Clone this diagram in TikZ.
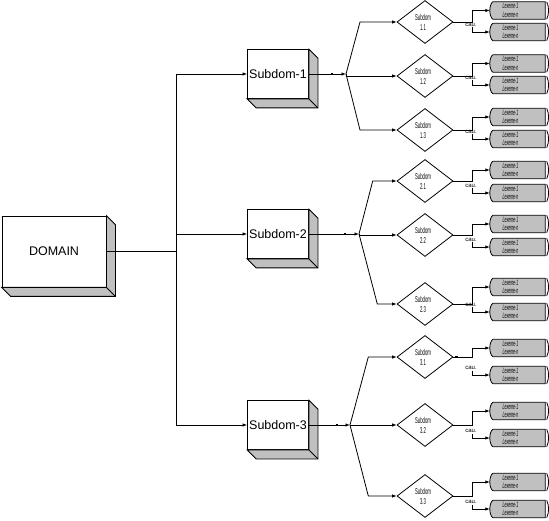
\documentclass[tikz,border=0pt]{standalone}
\usepackage{fontspec}
\setmainfont{Liberation Sans}
\newfontfamily\narrowfont[FakeStretch=0.5]{Liberation Sans}
\newfontfamily\lexfont[FakeStretch=0.45]{Liberation Sans}
\usetikzlibrary{shapes.geometric,arrows.meta,calc}
\pgfdeclarelayer{bg}
\pgfsetlayers{bg,main}
\definecolor{shadegray}{RGB}{192,192,192}
\tikzset{
  wire/.style={draw=black, line width=0.8pt},
  arr/.style={wire, -{Latex[length=4.5pt,width=3.5pt]}},
  cube/.style={rectangle, draw, fill=white, line width=0.8pt, inner sep=0pt, font=\fontsize{12.5}{15}\selectfont},
  dia/.style={diamond, draw, fill=white, line width=0.8pt, inner sep=0pt, minimum width=56pt, minimum height=43pt},
  dtext/.style={font=\narrowfont\fontsize{8.5}{10}\selectfont, align=center, inner sep=0pt},
  lex/.style={rectangle, inner sep=0pt, minimum width=55pt, minimum height=17pt},
  lextxt/.style={font=\lexfont\itshape\fontsize{7.8}{8.5}\selectfont, align=center, inner sep=0pt},
  cautxt/.style={font=\fontsize{6}{6}\selectfont, inner sep=0pt},
  dotmark/.style={rectangle, fill=black, minimum size=2.2pt, inner sep=0pt},
}
\newcommand{\cubedepth}[1]{%
  \filldraw[fill=shadegray, line width=0.8pt, line join=miter]
    (#1.north east) -- ++(9,9) |- ($(#1.south west)+(9,9)$) -- (#1.south west) -- (#1.south east) -- cycle;
  \draw[line width=0.8pt] (#1.south east) -- ++(9,9);}
\newcommand{\lexshape}[1]{%
  \begin{pgfonlayer}{bg}
  \filldraw[fill=shadegray, line width=0.8pt]
    ($(#1.north west)+(3,0)$) -- (#1.north east) -- (#1.south east) -- ($(#1.south west)+(3,0)$)
    .. controls ($(#1.south west)+(-1,-3)$) and ($(#1.north west)+(-1,3)$) .. ($(#1.north west)+(3,0)$) -- cycle;
  \draw[line width=0.8pt] ($(#1.north east)+(1.5,0)$) .. controls +(2.5,5) and +(2.5,-5) .. ($(#1.south east)+(1.5,0)$);
  \end{pgfonlayer}}
\begin{document}
\begin{tikzpicture}[x=1pt,y=-1pt]
\useasboundingbox (0,0) rectangle (549,521);
% main boxes
\node[cube, minimum width=104pt, minimum height=71pt] (dom) at (54,251.5) {DOMAIN};
\cubedepth{dom}
\node[cube, minimum width=61pt, minimum height=49pt] (s1) at (278,74) {Subdom-1};
\cubedepth{s1}
\node[cube, minimum width=61pt, minimum height=49pt] (s2) at (278,234) {Subdom-2};
\cubedepth{s2}
\node[cube, minimum width=61pt, minimum height=49pt] (s3) at (278,425) {Subdom-3};
\cubedepth{s3}
% trunk
\coordinate (tk1) at (176,74);
\coordinate (tk3) at (176,425);
\draw[wire] (tk1) -- (tk3);
\draw[wire] (dom.east) -- (dom.east -| tk1);
\draw[arr] (tk1) -- (s1.west);
\draw[arr] (s2.west -| tk1) -- (s2.west);
\draw[arr] (tk3) -- (s3.west);
% diamonds and lexeme boxes
\coordinate (kx) at (472,0);
\foreach \n/\c/\a/\b/\t in {11/22/10.5/32/1.1, 12/76/63.5/85/1.2, 13/130/117/139/1.3,
  21/181/170/193/2.1, 22/235/224/247/2.2, 23/304/287/312/2.3,
  31/357/348/375/3.1, 32/425/411/438/3.2, 33/496/482/509/3.3}{
  \node[dia, label={[dtext,name=dt\n,xshift=-2pt]center:{Subdom\\\t}}] (d\n) at (425,\c) {};
  \node[lex, label={[lextxt,name=lat\n,xshift=-7pt]center:{Lexeme-1\\Lexeme-n}}] (la\n) at (517.5,\a) {};
  \lexshape{la\n}
  \node[lex, label={[lextxt,name=lbt\n,xshift=-7pt]center:{Lexeme-1\\Lexeme-n}}] (lb\n) at (517.5,\b) {};
  \lexshape{lb\n}
  \draw[arr] (d\n.east) -- (d\n.east -| kx) |- (la\n.west);
  \node[cautxt] (c\n) at (471,\b-7) {cau.};
  \coordinate (s\n) at (472,\b-4.5);
  \draw[arr] (s\n) |- (lb\n.west);
}
% group 1
\coordinate (j1) at (346,74);
\draw[arr] (s1.east) -- (j1);
\node[dotmark] (m1) at (331.7,74) {};
\coordinate (b11) at (360,22);
\coordinate (b13) at (360,130);
\draw[arr] (j1) -- (b11) -- (d11.west);
\draw[arr] (j1) -- (j1 |- d12) -- (d12.west);
\draw[arr] (j1) -- (b13) -- (d13.west);
% group 2
\coordinate (j2) at (359,234);
\draw[arr] (s2.east) -- (j2);
\node[dotmark] (m2) at (345,234) {};
\coordinate (b21) at (372.7,181);
\coordinate (b23) at (377.3,304);
\draw[arr] (j2) -- (b21) -- (d21.west);
\draw[arr] (j2) -- (j2 |- d22) -- (d22.west);
\draw[arr] (j2) -- (b23) -- (d23.west);
% group 3
\coordinate (j3) at (350,425);
\draw[arr] (s3.east) -- (j3);
\node[dotmark] (m3) at (336.7,425) {};
\coordinate (b31) at (368.3,357);
\coordinate (b33) at (368.3,496);
\draw[arr] (j3) -- (b31) -- (d31.west);
\draw[arr] (j3) -- (d32.west);
\draw[arr] (j3) -- (b33) -- (d33.west);
\node[dotmark] (m31) at (456.5,357) {};
\end{tikzpicture}
\end{document}
